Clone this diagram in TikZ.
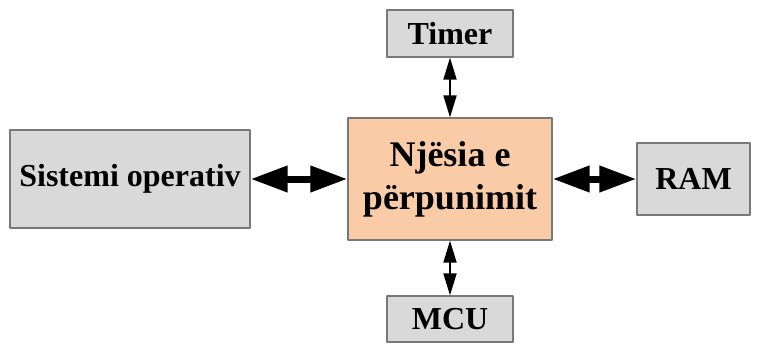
\documentclass[tikz,border=0pt]{standalone}
\usepackage{fontspec}
\setmainfont{Liberation Serif}
\usetikzlibrary{arrows.meta,positioning}
\definecolor{boxgray}{RGB}{217,217,217}
\definecolor{peach}{RGB}{249,203,167}
\definecolor{edgegray}{RGB}{120,120,120}
\tikzset{
  unit/.style={draw=edgegray, line width=1.2pt, fill=boxgray, inner sep=0pt, font=\bfseries\fontsize{32}{36}\selectfont},
  core/.style={draw=edgegray, line width=1.2pt, fill=peach, inner sep=0pt, align=center, font=\bfseries\fontsize{36}{43}\selectfont},
  bus/.style={line width=7pt, {Triangle[length=37pt,width=25pt]}-{Triangle[length=37pt,width=25pt]}},
  wire/.style={line width=1.8pt, {Triangle[length=22pt,width=13pt]}-{Triangle[length=22pt,width=13pt]}}
}
\begin{document}
\begin{tikzpicture}[x=1pt, y=-1pt, line join=round]
    \useasboundingbox (0,0) rectangle (758,346);
    % nodes
    \node[core, minimum width=204pt, minimum height=122pt] (cpu) at (450,179) {Njësia e\\përpunimit};
    \node[unit, minimum width=240pt, minimum height=98pt] (os) at (130,179) {Sistemi operativ};
    \node[unit, minimum width=113pt, minimum height=72pt] (ram) at (693.5,179) {RAM};
    \node[unit, minimum width=126pt, minimum height=47pt] (timer) at (450,33.5) {Timer};
    \node[unit, minimum width=126pt, minimum height=46pt] (mcu) at (450,319) {MCU};
    % connectors
    \draw[bus] (os.east) -- (cpu.west);
    \draw[bus] (cpu.east) -- (ram.west);
    \draw[wire] (timer.south) -- (cpu.north);
    \draw[wire] (cpu.south) -- (mcu.north);
\end{tikzpicture}
\end{document}
